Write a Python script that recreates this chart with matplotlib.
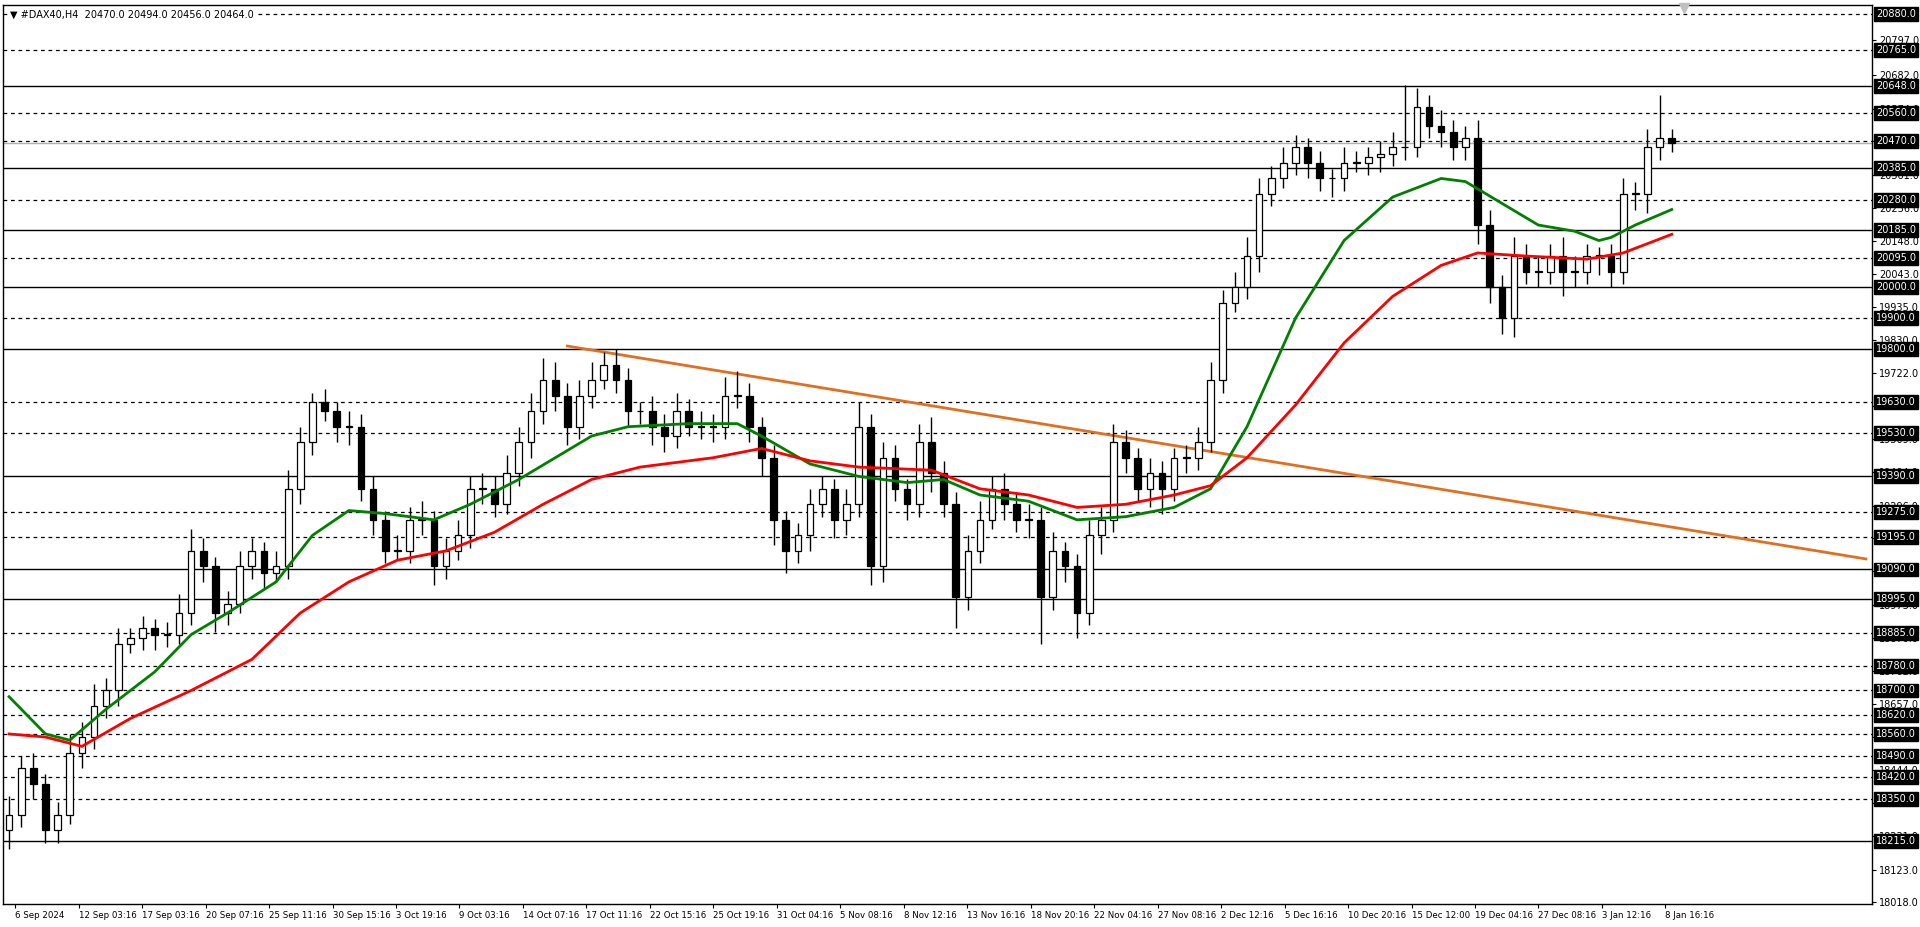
import matplotlib
matplotlib.use("Agg")
import matplotlib.pyplot as plt
import numpy as np

closes = [18300,18450,18400,18250,18300,18500,18550,18650,18700,18850,
          18870,18900,18880,18880,18950,19150,19100,18950,18980,19100,
          19150,19080,19100,19350,19500,19630,19600,19550,19550,19350,
          19250,19150,19150,19250,19250,19100,19150,19200,19350,19350,
          19300,19400,19500,19600,19700,19650,19550,19650,19700,19750,
          19700,19600,19600,19550,19520,19600,19550,19550,19550,19650,
          19650,19550,19450,19250,19150,19200,19300,19350,19250,19300,
          19550,19100,19450,19350,19300,19500,19400,19300,19000,19150,
          19250,19350,19300,19250,19250,19000,19150,19100,18950,19200,
          19250,19500,19450,19350,19400,19350,19450,19450,19500,19700,
          19950,20000,20100,20300,20350,20400,20450,20400,20350,20350,
          20400,20400,20420,20430,20450,20450,20580,20520,20500,20450,
          20480,20200,20000,19900,20100,20050,20050,20100,20050,20050,
          20100,20100,20050,20300,20300,20450,20480,20464]
first_open = 18250
wick_up = [60,40,50,30,40,60,50,70,40,50,30,40,30,40,60,70,40,30,40,50,
           40,30,50,60,50,30,40,30,50,40,40,30,50,40,60,30,40,50,40,50,
           40,60,50,60,70,60,40,50,60,40,50,40,30,50,40,60,40,50,40,60,
           80,40,30,40,30,40,50,40,30,50,80,40,50,40,30,60,80,40,40,50,
           60,40,50,40,50,40,60,30,40,50,40,60,40,30,50,40,30,40,50,60,
           40,50,60,50,40,50,40,30,40,30,50,40,30,40,50,200,60,40,50,40,
           40,60,50,40,60,40,50,40,60,50,40,30,40,50,40,60,140,30]
wick_dn = [60,40,50,40,40,30,50,40,40,50,30,40,50,40,30,40,50,60,40,30,
           40,50,30,40,50,40,30,50,60,40,50,40,30,40,50,60,40,30,40,50,
           40,30,40,50,40,50,60,40,40,30,40,50,40,60,50,40,30,40,50,40,
           40,50,60,80,70,40,50,40,60,50,40,60,50,40,50,40,60,40,100,40,
           40,30,50,40,60,150,40,50,80,40,60,40,50,40,60,80,40,50,40,30,
           40,30,40,50,40,30,40,50,40,60,40,30,40,50,40,40,30,40,50,40,
           40,60,50,50,60,40,50,40,80,50,40,60,50,40,50,60,40,30]

ma_green_x = [0,3,5,8,12,15,18,22,25,28,31,35,38,42,45,48,51,56,60,62,66,70,74,77,80,84,88,92,96,99,102,106,110,114,118,120,123,126,129,131,132,134,137]
ma_green_y = [18680,18560,18540,18640,18760,18880,18950,19050,19200,19280,19270,19250,19300,19380,19450,19520,19550,19560,19560,19520,19430,19390,19370,19380,19330,19310,19250,19260,19290,19350,19550,19900,20150,20290,20350,20340,20270,20200,20180,20150,20160,20200,20250]
ma_red_x = [0,3,6,10,15,20,24,28,32,36,40,44,48,52,58,62,66,70,76,80,84,88,92,96,99,102,106,110,114,118,121,125,130,133,137]
ma_red_y = [18560,18550,18520,18610,18700,18800,18950,19050,19120,19150,19210,19300,19380,19420,19450,19480,19440,19420,19410,19350,19330,19290,19300,19330,19360,19450,19620,19820,19970,20070,20110,20100,20090,20110,20170]

trend_x = [46, 153]
trend_y = [19810, 19124]

solid_levels = [20648,20385,20185,20000,19800,19390,19090,18995,18215]
dashed_levels = [20880,20765,20560,20470,20280,20095,19900,19630,19530,19275,19195,18885,18780,18700,18620,18560,18490,18420,18350]
scale_ticks = [18018,18123,18231,18336,18444,18549,18657,18762,18870,18975,19086,19191,19296,19404,19509,19617,19722,19830,19935,20043,20148,20256,20361,20470,20574,20682,20797]
current_price = 20464

date_labels = ["6 Sep 2024","12 Sep 03:16","17 Sep 03:16","20 Sep 07:16","25 Sep 11:16","30 Sep 15:16",
               "3 Oct 19:16","9 Oct 03:16","14 Oct 07:16","17 Oct 11:16","22 Oct 15:16","25 Oct 19:16",
               "31 Oct 04:16","5 Nov 08:16","8 Nov 12:16","13 Nov 16:16","18 Nov 20:16","22 Nov 04:16",
               "27 Nov 08:16","2 Dec 12:16","5 Dec 16:16","10 Dec 20:16","15 Dec 12:00","19 Dec 04:16",
               "27 Dec 08:16","3 Jan 12:16","8 Jan 16:16"]
title = "▼ #DAX40,H4  20470.0 20494.0 20456.0 20464.0"

W, H = 1920, 927
fig = plt.figure(figsize=(W/100, H/100), dpi=100)
fig.patch.set_facecolor("white")
ax = fig.add_axes([3/W, 23/H, (1872-3)/W, (904-5)/H])
ymin, ymax = 18012, 20909
ax.set_ylim(ymin, ymax)
ax.set_xlim(-0.5, 153.5)

for lv in solid_levels:
    ax.axhline(lv, color="black", lw=1.0, zorder=1)
for lv in dashed_levels:
    ax.axhline(lv, color="black", lw=0.9, ls=(0, (3, 3)), zorder=1)
ax.axhline(current_price, color="#b0b0b0", lw=1.0, zorder=1)

opens = [first_open] + closes[:-1]
for i, (o, c, wu, wd) in enumerate(zip(opens, closes, wick_up, wick_dn)):
    hi = max(o, c) + wu
    lo = min(o, c) - wd
    ax.vlines(i, lo, hi, color="black", lw=1.0, zorder=3)
    bottom = min(o, c)
    height = max(abs(c - o), 2)
    face = "white" if c >= o else "black"
    ax.bar(i, height, bottom=bottom, width=0.55, color=face, edgecolor="black", lw=0.9, zorder=4)

ax.plot(ma_green_x, ma_green_y, color="#008000", lw=2, zorder=5)
ax.plot(ma_red_x, ma_red_y, color="#ff0000", lw=2, zorder=5)
ax.plot(trend_x, trend_y, color="#e07020", lw=2, zorder=2, clip_on=True)

ax.yaxis.tick_right()
ax.set_yticks(scale_ticks)
ax.set_yticklabels([f"{t:.1f}" for t in scale_ticks], fontsize=7)
ax.tick_params(axis="y", length=3, pad=2)
for lv in solid_levels + dashed_levels:
    ax.text(1.0 + 4/1869, lv, f"{lv:.1f}", transform=ax.get_yaxis_transform(), fontsize=7,
            color="white", va="center", ha="left",
            bbox=dict(boxstyle="square,pad=0.2", fc="black", ec="black"), zorder=10, clip_on=False)

ticks = [0.5 + 5.23 * k for k in range(len(date_labels))]
ax.set_xticks(ticks)
ax.set_xticklabels(date_labels, fontsize=6.2, ha="left")
ax.tick_params(axis="x", length=3, pad=2)
for s in ax.spines.values():
    s.set_linewidth(1.0)

ax.text(0.004, 0.995, title, transform=ax.transAxes, fontsize=7, va="top", ha="left",
        bbox=dict(fc="white", ec="none", pad=0.5), zorder=11)
ax.plot([138], [20900], marker="v", color="#c0c0c0", ms=7, clip_on=False, zorder=11)

fig.savefig("out.png", dpi=100)
